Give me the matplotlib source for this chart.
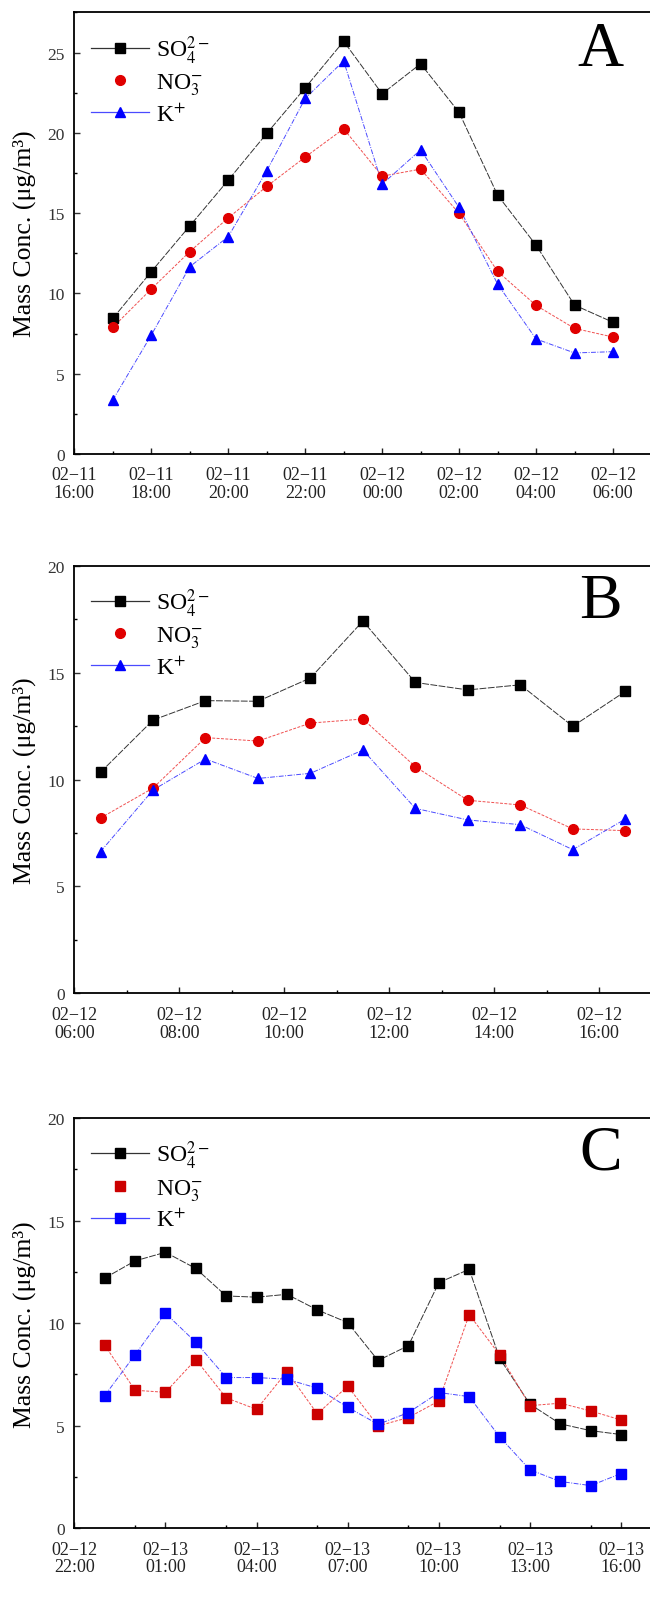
import numpy as np
import pandas as pd
import matplotlib
matplotlib.use("Agg")
import matplotlib.pyplot as plt
import matplotlib.dates as mdates
from matplotlib.lines import Line2D

plt.rcParams["font.family"] = ["Liberation Serif", "DejaVu Serif"]
plt.rcParams["mathtext.fontset"] = "stix"

# ---------------- data ----------------
# panel A: 02-11 17:00 .. 02-12 06:00, hourly
times_a = pd.date_range("2013-02-11 17:00", periods=14, freq="h")
so4_a = [8.44, 11.35, 14.2, 17.05, 19.96, 22.8, 25.7, 22.43, 24.3, 21.27, 16.12, 13.0, 9.27, 8.2]
no3_a = [7.88, 10.27, 12.6, 14.7, 16.66, 18.49, 20.25, 17.3, 17.74, 14.98, 11.37, 9.25, 7.82, 7.28]
k_a = [3.36, 7.4, 11.66, 13.53, 17.63, 22.14, 24.48, 16.8, 18.94, 15.35, 10.58, 7.16, 6.29, 6.37]

# panel B: 02-12 06:30 .. 16:30, hourly
times_b = pd.date_range("2013-02-12 06:30", periods=11, freq="h")
so4_b = [10.34, 12.78, 13.69, 13.66, 14.75, 17.41, 14.54, 14.19, 14.43, 12.49, 14.12]
no3_b = [8.2, 9.6, 11.96, 11.8, 12.64, 12.83, 10.6, 9.03, 8.81, 7.69, 7.61]
k_b = [6.63, 9.51, 10.96, 10.05, 10.29, 11.38, 8.65, 8.11, 7.89, 6.72, 8.15]

# panel C: 02-12 23:00 .. 02-13 16:00, hourly
times_c = pd.date_range("2013-02-12 23:00", periods=18, freq="h")
so4_c = [12.2, 13.04, 13.46, 12.67, 11.33, 11.27, 11.41, 10.65, 10.03, 8.18, 8.91, 11.98,
         12.63, 8.29, 6.05, 5.09, 4.76, 4.57]
no3_c = [8.93, 6.73, 6.63, 8.23, 6.36, 5.8, 7.64, 5.58, 6.93, 4.99, 5.4, 6.21,
         10.42, 8.46, 5.98, 6.1, 5.72, 5.28]
k_c = [6.47, 8.46, 10.49, 9.07, 7.35, 7.35, 7.27, 6.83, 5.9, 5.07, 5.64, 6.62,
       6.42, 4.46, 2.85, 2.28, 2.08, 2.67]

labels = [r"SO$_4^{2-}$", r"NO$_3^{-}$", r"K$^{+}$"]

panels = [
    dict(letter="A", times=times_a, series=[so4_a, no3_a, k_a],
         xlim=("2013-02-11 16:00", "2013-02-12 07:00"), ymax=27.5,
         major=range(0, 24, 2), minor=range(1, 24, 2),
         markers=["s", "o", "^"], pos=0.7183, h=0.2734),
    dict(letter="B", times=times_b, series=[so4_b, no3_b, k_b],
         xlim=("2013-02-12 06:00", "2013-02-12 17:00"), ymax=20,
         major=range(0, 24, 2), minor=range(1, 24, 2),
         markers=["s", "o", "^"], pos=0.3843, h=0.2648),
    dict(letter="C", times=times_c, series=[so4_c, no3_c, k_c],
         xlim=("2013-02-12 22:00", "2013-02-13 17:00"), ymax=20,
         major=[1, 4, 7, 10, 13, 16, 22], minor=[0, 3, 6, 9, 12, 15],
         markers=["s", "s", "s"], pos=0.0531, h=0.2539),
]

colors = ["black", "#e00000", "#0000ff"]
line_colors = ["#333333", "#f05050", "#4a4aff"]
dashes = [(0, (7, 1.5)), (0, (3, 1.5)), (0, (5, 1.5, 1, 1.5))]

fig = plt.figure(figsize=(6.5, 16.15), dpi=100)

for p in panels:
    ax = fig.add_axes([0.1143, p["pos"], 0.888, p["h"]])
    for i, vals in enumerate(p["series"]):
        ax.plot(p["times"], vals, linestyle=dashes[i], color=line_colors[i], lw=0.7, zorder=2)
        ms = 6.5 if p["markers"][i] != "o" else 7
        mc = colors[i] if not (p["letter"] == "C" and i == 1) else "#cc0000"
        ax.plot(p["times"], vals, linestyle="none", marker=p["markers"][i], ms=ms,
                color=mc, zorder=3)

    ax.set_xlim(pd.Timestamp(p["xlim"][0]), pd.Timestamp(p["xlim"][1]))
    ax.set_ylim(0, p["ymax"])
    ax.xaxis.set_major_locator(mdates.HourLocator(byhour=list(p["major"])))
    ax.xaxis.set_minor_locator(mdates.HourLocator(byhour=list(p["minor"])))
    ax.xaxis.set_major_formatter(mdates.DateFormatter("%m\u2212%d\n%H:%M"))
    ax.yaxis.set_major_locator(plt.MultipleLocator(5))
    ax.yaxis.set_minor_locator(plt.MultipleLocator(2.5))
    ax.tick_params(which="both", direction="in", width=1.0)
    ax.tick_params(which="major", length=4.5)
    ax.tick_params(which="minor", length=2.5)
    ax.tick_params(axis="x", labelsize=13, pad=9, colors="#222222")
    ax.tick_params(axis="y", labelsize=12.5, pad=7, colors="#333333")
    for lab in ax.get_xticklabels():
        lab.set_linespacing(1.05)
    for s in ax.spines.values():
        s.set_linewidth(1.3)

    ax.set_ylabel("Mass Conc. (\u03bcg/m\u00b3)", fontsize=18.5)
    ax.yaxis.set_label_coords(-0.066, 0.5)

    ax.text(0.912, 0.915, p["letter"], transform=ax.transAxes, fontsize=46,
            ha="center", va="center")

    handles = []
    for i in range(3):
        ls = "none" if i == 1 else "-"
        mc = colors[i] if not (p["letter"] == "C" and i == 1) else "#cc0000"
        handles.append(Line2D([], [], color=line_colors[i] if i != 1 else mc, lw=0.9,
                              linestyle=ls, marker=p["markers"][i], ms=7, markerfacecolor=mc,
                              markeredgecolor=mc))
    ax.legend(handles, labels, loc="upper left", bbox_to_anchor=(0.0, 0.99),
              frameon=False, fontsize=17, handlelength=2.45, handletextpad=0.3,
              labelspacing=0.25, borderpad=0.2)

fig.savefig("out.png", dpi=100)
